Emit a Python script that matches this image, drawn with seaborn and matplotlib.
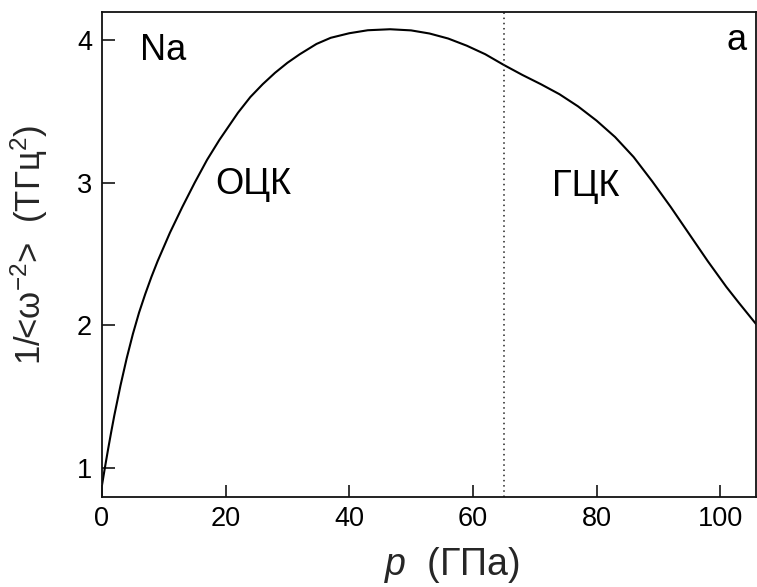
import matplotlib
matplotlib.use("Agg")
import matplotlib.pyplot as plt
import seaborn as sns
import pandas as pd

# Pressure (GPa) and inverse mean-square phonon frequency 1/<w^-2> (THz^2) for Na
pressure = [0.0, 0.5, 1.0, 1.5, 2.0, 3.0, 4.0, 5.0, 6.0, 7.0, 8.0, 9.0,
            10.0, 11.0, 12.0, 13.0, 14.0, 15.0, 17.0, 19.0, 22.0, 24.0,
            26.0, 28.0, 30.0, 32.0, 34.7, 37.0, 40.0, 43.0, 46.6, 50.0,
            53.0, 56.0, 59.0, 62.0, 65.0, 68.0, 71.0, 74.0, 77.0, 80.0,
            83.0, 86.0, 89.0, 92.0, 95.0, 98.0, 101.0, 103.0, 105.8]
inv_omega2 = [0.88, 1.01, 1.135, 1.255, 1.37, 1.58, 1.77, 1.94, 2.09, 2.22,
              2.34, 2.45, 2.55, 2.65, 2.74, 2.83, 2.915, 3.00, 3.16, 3.30,
              3.49, 3.60, 3.69, 3.77, 3.84, 3.90, 3.972, 4.015, 4.047, 4.068,
              4.075, 4.067, 4.045, 4.01, 3.96, 3.90, 3.825, 3.755, 3.69,
              3.62, 3.535, 3.435, 3.32, 3.18, 3.01, 2.83, 2.64, 2.45, 2.27,
              2.16, 2.01]

transition_p = 65.0
x_ticks = [0, 20, 40, 60, 80, 100]
y_ticks = [1, 2, 3, 4]

df = pd.DataFrame({"p": pressure, "w": inv_omega2})

sns.set_theme(style="ticks")
plt.rcParams["font.family"] = ["Liberation Sans", "DejaVu Sans"]
plt.rcParams["mathtext.fontset"] = "custom"
plt.rcParams["mathtext.rm"] = "Liberation Sans"
plt.rcParams["mathtext.it"] = "Liberation Sans:italic"

fig = plt.figure(figsize=(7.57, 5.87), dpi=100)
ax = fig.add_axes([0.1347, 0.1538, 0.8640, 0.8258])

sns.lineplot(data=df, x="p", y="w", ax=ax, color="black", linewidth=1.5,
             sort=False)
ax.axvline(transition_p, color="#222222", linestyle=(0, (1, 2.4)),
           linewidth=1.1)

ax.set_xlim(0, 105.8)
ax.set_ylim(0.80, 4.196)
ax.set_xticks(x_ticks)
ax.set_yticks(y_ticks)
ax.tick_params(direction="in", length=9, width=1.1, labelsize=19.5,
               colors="black", pad=7, top=False, right=False)
for s in ax.spines.values():
    s.set_linewidth(1.3)
    s.set_color("#111111")

ax.set_xlabel(r"$p$  (ГПа)", fontsize=27)
ax.xaxis.set_label_coords(0.535, -0.1)
ax.set_ylabel(r"1/<ω$^{-2}$>  (ТГц$^{2}$)", fontsize=25)
ax.yaxis.set_label_coords(-0.08, 0.52)

txt = dict(fontsize=26, color="black")
ax.text(6.1, 3.86, "Na", ha="left", va="baseline", **txt)
ax.text(104.3, 3.93, "a", ha="right", va="baseline", **txt)
ax.text(18.3, 2.92, "ОЦК", ha="left", va="baseline", **txt)
ax.text(72.8, 2.91, "ГЦК", ha="left", va="baseline", **txt)

fig.savefig("out.png", dpi=100)
